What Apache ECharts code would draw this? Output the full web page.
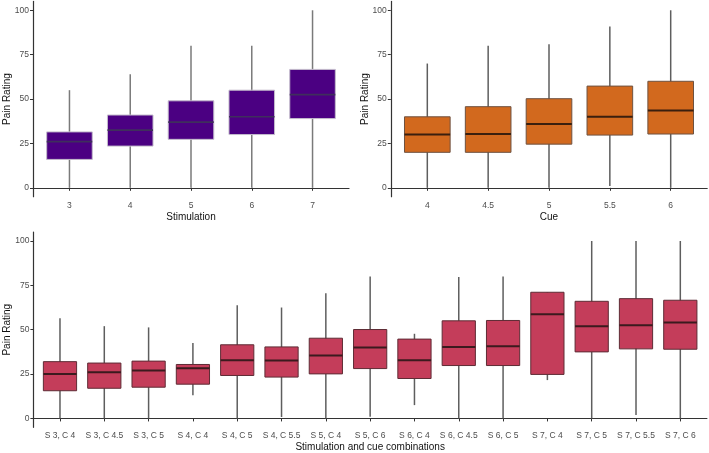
<!DOCTYPE html>
<html>
<head>
<meta charset="utf-8">
<script src="https://cdn.jsdelivr.net/npm/echarts@6/dist/echarts.min.js"></script>
<style>
  html, body { margin: 0; padding: 0; background: #fff; }
  #charts { width: 709px; height: 453px; }
</style>
</head>
<body>
<div id="charts"></div>
<script>
"use strict";

// [min, q1, median, q3, max]
var stimCats = ['3', '4', '5', '6', '7'];
var stimStats = [
    [0, 16, 26, 31.5, 55],
    [0, 23.5, 32.5, 41, 64],
    [0, 27.3, 37, 49, 80],
    [0, 30, 40, 55, 80],
    [0, 39, 52.5, 66.7, 100]
];

var cueCats = ['4', '4.5', '5', '5.5', '6'];
var cueStats = [
    [0, 20, 30, 40, 70],
    [0, 20, 30.3, 45.7, 80],
    [0, 24.6, 36, 50.2, 80.8],
    [1, 29.7, 40, 57.3, 90.8],
    [0, 30.3, 43.6, 60, 100]
];

var comboCats = ['S 3, C 4', 'S 3, C 4.5', 'S 3, C 5', 'S 4, C 4', 'S 4, C 5', 'S 4, C 5.5',
    'S 5, C 4', 'S 5, C 6', 'S 6, C 4', 'S 6, C 4.5', 'S 6, C 5', 'S 7, C 4',
    'S 7, C 5', 'S 7, C 5.5', 'S 7, C 6'];
var comboStats = [
    [0, 15.6, 25, 32, 56.5],
    [0, 17, 26, 31.2, 52],
    [0, 17.6, 27, 32.3, 51.3],
    [13, 19.3, 28.3, 30.4, 42.5],
    [0, 24.2, 32.8, 41.5, 63.8],
    [0.8, 23.3, 32.6, 40.3, 62.5],
    [0, 25.1, 35.5, 45.2, 70.5],
    [0.9, 28.1, 40, 50.1, 80],
    [7.5, 22.5, 32.8, 44.7, 47.7],
    [0, 29.8, 40.3, 55, 79.7],
    [0, 29.8, 40.7, 55.2, 80],
    [21.6, 24.8, 58.7, 71.1, 71.1],
    [0, 37.5, 52, 66, 100],
    [1.9, 39.2, 52.5, 67.5, 100],
    [0, 39, 54, 66.6, 100]
];

var yTicks = [0, 25, 50, 75, 100];

var dom = document.getElementById("charts");
var myChart = echarts.init(dom, null, { renderer: 'canvas' });

var FONT = 'Liberation Sans, Arial, sans-serif';

var panels = [
    { cats: stimCats, stats: stimStats, name: 'Stimulation', fill: '#4B0082', border: '#c4bccc', median: '#3f2f5c', whisker: '#7a7a7a', medW: 1.6,
      grid: { left: 33, top: 1.4, width: 316, height: 195.3 }, labelSize: 8.5, nameGap: 16 },
    { cats: cueCats, stats: cueStats, name: 'Cue', fill: '#D2691E', border: '#6e5240', median: '#3a1f0e', whisker: '#5e5e5e', medW: 2,
      grid: { left: 390.8, top: 1.4, width: 316.4, height: 195.3 }, labelSize: 8.5, nameGap: 16 },
    { cats: comboCats, stats: comboStats, name: 'Stimulation and cue combinations', fill: '#C43D5A', border: '#5e2c35', median: '#3b1a1e', whisker: '#5e5e5e', medW: 2,
      grid: { left: 33.4, top: 232.1, width: 673.5, height: 195.2 }, labelSize: 8.5, nameGap: 15 }
];

function makeRender(p) {
    return function (params, api) {
        var x = api.value(0);
        var lo = api.coord([x, api.value(1)]);
        var q1 = api.coord([x, api.value(2)]);
        var md = api.coord([x, api.value(3)]);
        var q3 = api.coord([x, api.value(4)]);
        var hi = api.coord([x, api.value(5)]);
        var half = api.size([0.75, 0])[0] / 2;
        return {
            type: 'group',
            children: [
                { type: 'line', shape: { x1: lo[0], y1: lo[1], x2: hi[0], y2: hi[1] },
                  style: { stroke: p.whisker, lineWidth: 1.5 } },
                { type: 'rect', shape: { x: q3[0] - half, y: q3[1], width: half * 2, height: q1[1] - q3[1] },
                  style: { fill: p.fill, stroke: p.border, lineWidth: 1 } },
                { type: 'line', shape: { x1: md[0] - half, y1: md[1], x2: md[0] + half, y2: md[1] },
                  style: { stroke: p.median, lineWidth: p.medW } }
            ]
        };
    };
}

var option = {
    animation: false,
    textStyle: { fontFamily: FONT },
    grid: [], xAxis: [], yAxis: [], series: []
};

panels.forEach(function (p, i) {
    var pos = p.cats.map(function (c, k) { return k + 1; });
    var g = p.grid;
    g.outerBoundsMode = 'none';
    g.containLabel = false;
    option.grid.push(g);
    option.xAxis.push({
        type: 'value', gridIndex: i,
        min: 0.4, max: p.cats.length + 0.6,
        name: p.name, nameLocation: 'middle', nameGap: p.nameGap, nameMoveOverlap: false,
        nameTextStyle: { color: '#111', fontSize: 10, fontFamily: FONT },
        splitLine: { show: false },
        axisLine: { lineStyle: { color: '#333', width: 1.2 } },
        axisTick: { customValues: pos, length: 3, lineStyle: { color: '#333' } },
        axisLabel: {
            customValues: pos, color: '#4d4d4d', fontSize: p.labelSize, margin: 4, fontFamily: FONT,
            formatter: function (v) { return p.cats[Math.round(v) - 1]; }
        }
    });
    option.yAxis.push({
        type: 'value', gridIndex: i,
        min: -5, max: 105,
        name: 'Pain Rating', nameLocation: 'middle', nameGap: 21, nameMoveOverlap: false,
        nameTextStyle: { color: '#111', fontSize: 10, fontFamily: FONT },
        splitLine: { show: false },
        axisLine: { show: true, lineStyle: { color: '#333', width: 1.2 } },
        axisTick: { show: true, customValues: yTicks, length: 3, lineStyle: { color: '#333' } },
        axisLabel: { customValues: yTicks, color: '#4d4d4d', fontSize: 8.5, margin: 4, fontFamily: FONT }
    });
    option.series.push({
        type: 'custom', xAxisIndex: i, yAxisIndex: i,
        renderItem: makeRender(p),
        encode: { x: 0, y: [1, 2, 3, 4, 5] },
        data: p.stats.map(function (s, k) { return [k + 1].concat(s); })
    });
});

if (option && typeof option === "object") {
    myChart.setOption(option, true);
}
</script>
</body>
</html>
